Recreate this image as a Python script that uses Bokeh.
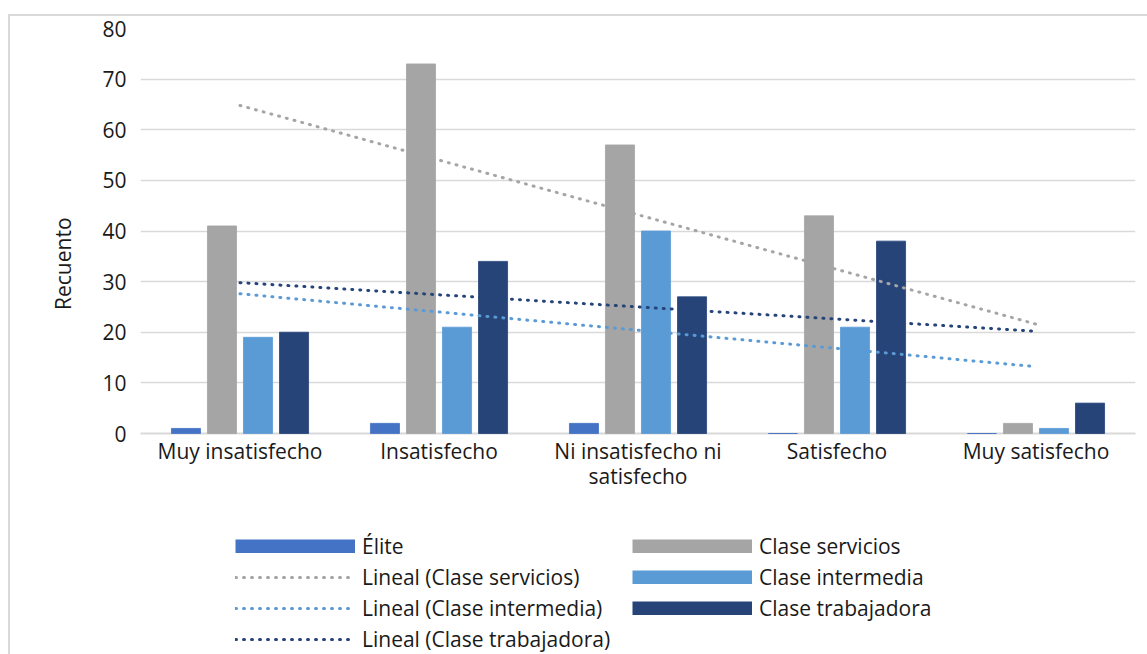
import numpy as np
from bokeh.plotting import figure
from bokeh.layouts import column
from bokeh.models import (FactorRange, Range1d, ColumnDataSource, Legend, LegendItem,
                          FixedTicker)
from bokeh.transform import dodge
from bokeh.embed import file_html
from bokeh.resources import INLINE

# ---------------- data ----------------
categories = ["Muy insatisfecho", "Insatisfecho", "Ni insatisfecho ni\nsatisfecho",
              "Satisfecho", "Muy satisfecho"]
elite = [1, 2, 2, 0, 0]
servicios = [41, 73, 57, 43, 2]
intermedia = [19, 21, 40, 21, 1]
trabajadora = [20, 34, 27, 38, 6]
series_names = ["Élite", "Clase servicios", "Clase intermedia", "Clase trabajadora"]
trend_names = ["Lineal (Clase servicios)", "Lineal (Clase intermedia)", "Lineal (Clase trabajadora)"]
y_ticks = [0, 10, 20, 30, 40, 50, 60, 70, 80]
y_label = "Recuento"

# ---------------- style ----------------
colors = ["#4472C4", "#A5A5A5", "#5B9BD5", "#264478"]
FONT = "Open Sans"
FS = "21px"
TXT = "#1a1a1a"
GRID = "#d9d9d9"

W = 1137
H1, H2 = 497, 141

p = figure(x_range=FactorRange(factors=categories, range_padding=0),
           y_range=Range1d(0, 80), width=W, height=H1,
           output_backend="svg", toolbar_location=None,
           min_border_left=130, min_border_right=12, min_border_top=12,
           min_border_bottom=H1 - 417)
p.outline_line_color = None
p.background_fill_color = "white"
p.border_fill_color = "white"

src = ColumnDataSource(dict(cat=categories, elite=elite, servicios=servicios,
                            intermedia=intermedia, trabajadora=trabajadora))
keys = ["elite", "servicios", "intermedia", "trabajadora"]
bar_w = 0.146
step = 0.181
offsets = [-1.5 * step, -0.5 * step, 0.5 * step, 1.5 * step]
for k, off, c in zip(keys, offsets, colors):
    p.vbar(x=dodge("cat", off, range=p.x_range), top=k, bottom=0, width=bar_w,
           source=src, fill_color=c, line_color=c, line_width=0.8, level="overlay")

# linear trendlines (least squares, x = 1..n) drawn at category centres
xs = np.arange(1, len(categories) + 1)
for vals, c in zip([servicios, intermedia, trabajadora], colors[1:]):
    m, b = np.polyfit(xs, vals, 1)
    ys = [m * xs[0] + b, m * xs[-1] + b]
    p.line(x=[categories[0], categories[-1]], y=ys, line_color=c, line_width=3,
           line_dash="1 7", line_cap="round", level="overlay")

# axes
p.yaxis.ticker = FixedTicker(ticks=y_ticks)
p.yaxis.axis_line_color = None
p.yaxis.major_tick_line_color = None
p.yaxis.minor_tick_line_color = None
p.yaxis.major_label_text_font = FONT
p.yaxis.major_label_text_font_size = FS
p.yaxis.major_label_text_color = TXT
p.yaxis.major_label_standoff = 8
p.yaxis.axis_label = y_label + "\u00a0" * 12
p.yaxis.axis_label_text_font = FONT
p.yaxis.axis_label_text_font_size = FS
p.yaxis.axis_label_text_font_style = "normal"
p.yaxis.axis_label_text_color = TXT
p.yaxis.axis_label_standoff = 22

p.xaxis.axis_line_color = GRID
p.xaxis.axis_line_width = 2
p.xaxis.major_tick_line_color = None
p.xaxis.minor_tick_line_color = None
p.xaxis.major_label_text_font = FONT
p.xaxis.major_label_text_font_size = FS
p.xaxis.major_label_text_color = TXT
p.xaxis.major_label_standoff = -3
p.xaxis.major_label_text_line_height = 0.9
p.xaxis.major_label_orientation = "horizontal"

p.xgrid.grid_line_color = None
p.ygrid.grid_line_color = GRID
p.ygrid.grid_line_width = 1.5

# ---------------- legend panel (second figure) ----------------
q = figure(width=W, height=H2, x_axis_type=None, y_axis_type=None,
           output_backend="svg", toolbar_location=None,
           min_border=0, x_range=Range1d(0, 1), y_range=Range1d(0, 1))
q.outline_line_color = None
q.xgrid.grid_line_color = None
q.ygrid.grid_line_color = None
q.border_fill_color = "white"

# proxy renderers (placed outside the visible range) that only feed the legend;
# bar swatches are drawn as thick butt-capped strokes so they fill the full swatch box
lb = [q.line(x=[-10, -9], y=[0, 0], line_color=c, line_width=14, line_cap="butt")
      for c in colors]
lt = [q.line(x=[-10, -9], y=[0, 0], line_color=c, line_width=3, line_dash="1 7",
             line_cap="round") for c in colors[1:]]

items = [LegendItem(label=series_names[0], renderers=[lb[0]]),
         LegendItem(label=series_names[1], renderers=[lb[1]]),
         LegendItem(label=trend_names[0], renderers=[lt[0]]),
         LegendItem(label=series_names[2], renderers=[lb[2]]),
         LegendItem(label=trend_names[1], renderers=[lt[1]]),
         LegendItem(label=series_names[3], renderers=[lb[3]]),
         LegendItem(label=trend_names[2], renderers=[lt[2]])]
leg = Legend(items=items, orientation="horizontal", ncols=2, location=(95, 1),
             glyph_width=120, glyph_height=14, label_standoff=7, label_width=267,
             label_text_font=FONT, label_text_font_size=FS, label_text_color=TXT,
             label_height=24, spacing=3, padding=0, margin=0,
             border_line_color=None, background_fill_alpha=0)
q.add_layout(leg)

layout = column(p, q, spacing=0)
layout.styles = {"margin-left": "8px", "margin-top": "14px",
                 "border-left": "2px solid #d9d9d9", "border-top": "2px solid #d9d9d9"}

open("out.html", "w").write(file_html(layout, INLINE))
